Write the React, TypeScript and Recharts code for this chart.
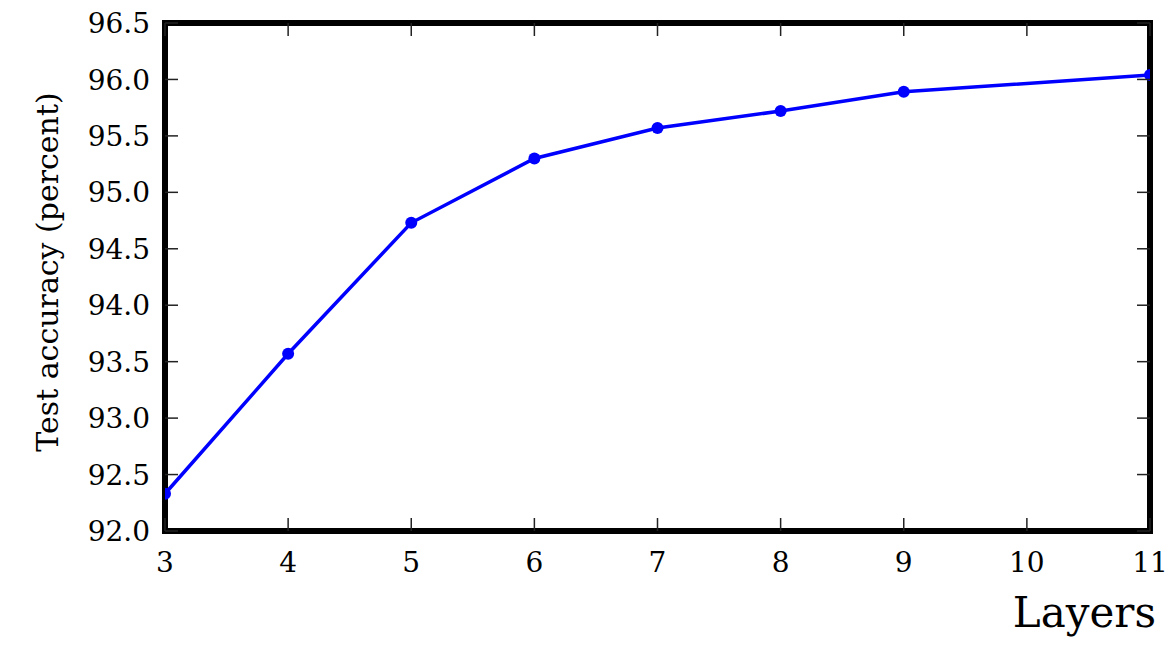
import { LineChart, Line, XAxis, YAxis, ReferenceArea } from "recharts";

const layers = [3, 4, 5, 6, 7, 8, 9, 11];
const accuracy = [92.33, 93.57, 94.73, 95.3, 95.57, 95.72, 95.89, 96.04];
const xTicks = [3, 4, 5, 6, 7, 8, 9, 10, 11];
const yTicks = [92.0, 92.5, 93.0, 93.5, 94.0, 94.5, 95.0, 95.5, 96.0, 96.5];

const data = layers.map((l, i) => ({ layers: l, acc: accuracy[i] }));

const FONT = "'DejaVu Serif', serif";
const TICK_LEN = 13;

// ticks point into the plot, labels sit outside
function BottomTick(props: any) {
  const { x, y, payload } = props;
  return (
    <g>
      <line x1={x} y1={y} x2={x} y2={y - TICK_LEN} stroke="#222" strokeWidth={1.5} />
      <text x={x} y={y + 41} textAnchor="middle" fontFamily={FONT} fontSize={28} fill="#000">
        {payload.value}
      </text>
    </g>
  );
}

function TopTick(props: any) {
  const { x, y } = props;
  return <line x1={x} y1={y} x2={x} y2={y + TICK_LEN} stroke="#222" strokeWidth={1.5} />;
}

function LeftTick(props: any) {
  const { x, y, payload } = props;
  return (
    <g>
      <line x1={x} y1={y} x2={x + TICK_LEN} y2={y} stroke="#222" strokeWidth={1.5} />
      <text x={x - 15} y={y} dy="0.36em" textAnchor="end" fontFamily={FONT} fontSize={28} fill="#000">
        {Number(payload.value).toFixed(1)}
      </text>
    </g>
  );
}

function RightTick(props: any) {
  const { x, y } = props;
  return <line x1={x} y1={y} x2={x - TICK_LEN} y2={y} stroke="#222" strokeWidth={1.5} />;
}

// heavy box around the plot area
function Frame(props: any) {
  const { x, y, width, height } = props;
  return <rect x={x} y={y} width={width} height={height} fill="none" stroke="#000" strokeWidth={6} />;
}

export default function App() {
  return (
    <div style={{ position: "absolute", left: 0, top: 0, background: "#fff" }}>
      <LineChart
        width={1168}
        height={646}
        data={data}
        margin={{ top: 22, right: 17, left: 0, bottom: 0 }}
      >
        <XAxis
          xAxisId="bottom"
          dataKey="layers"
          type="number"
          domain={[3, 11]}
          ticks={xTicks}
          allowDataOverflow
          height={115}
          tickSize={0}
          tickMargin={0}
          tickLine={false}
          tick={<BottomTick />}
          axisLine={false}
          label={{
            content: () => (
              <text x={1156} y={627} textAnchor="end" fontFamily={FONT} fontSize={42} fill="#000">
                Layers
              </text>
            ),
          }}
        />
        <XAxis
          xAxisId="top"
          orientation="top"
          dataKey="layers"
          type="number"
          domain={[3, 11]}
          ticks={xTicks}
          allowDataOverflow
          height={1}
          tickSize={0}
          tickMargin={0}
          tickLine={false}
          tick={<TopTick />}
          axisLine={false}
        />
        <YAxis
          yAxisId="left"
          type="number"
          domain={[92, 96.5]}
          ticks={yTicks}
          allowDataOverflow
          width={165}
          tickSize={0}
          tickMargin={0}
          tickLine={false}
          tick={<LeftTick />}
          axisLine={false}
          label={{
            content: () => (
              <text
                x={58}
                y={272}
                transform="rotate(-90 58 272)"
                textAnchor="middle"
                fontFamily={FONT}
                fontSize={30}
                fill="#000"
              >
                Test accuracy (percent)
              </text>
            ),
          }}
        />
        <YAxis
          yAxisId="right"
          orientation="right"
          type="number"
          domain={[92, 96.5]}
          ticks={yTicks}
          allowDataOverflow
          width={1}
          tickSize={0}
          tickMargin={0}
          tickLine={false}
          tick={<RightTick />}
          axisLine={false}
        />
        <Line
          xAxisId="bottom"
          yAxisId="left"
          dataKey="acc"
          type="linear"
          stroke="#0000ff"
          strokeWidth={3.5}
          dot={{ r: 6, fill: "#0000ff", stroke: "#0000ff", strokeWidth: 0 }}
          isAnimationActive={false}
        />
        <ReferenceArea
          xAxisId="bottom"
          yAxisId="left"
          x1={3}
          x2={11}
          y1={92}
          y2={96.5}
          ifOverflow="visible"
          shape={<Frame />}
        />
      </LineChart>
    </div>
  );
}
